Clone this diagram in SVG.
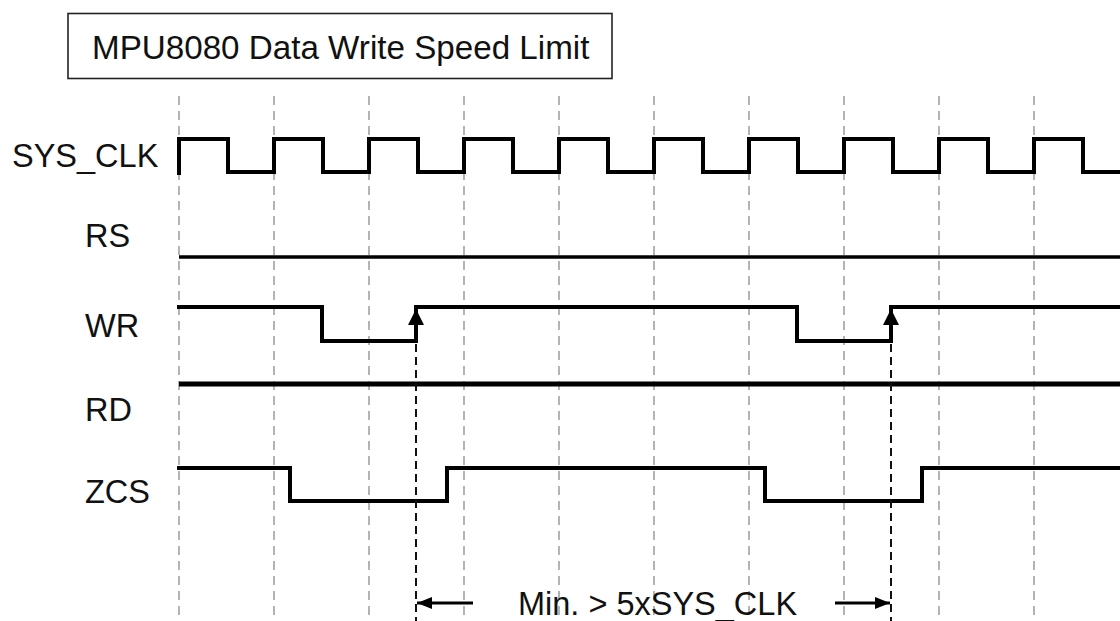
<svg xmlns="http://www.w3.org/2000/svg" width="1120" height="621" viewBox="0 0 1120 621">
<defs>
<style>
.lbl{font-family:"Liberation Sans",Arial,sans-serif;font-size:32.5px;fill:#111}
.ttl{font-size:33.2px}
.grid{stroke:#8c8c8c;stroke-width:1.3;stroke-dasharray:9 6;fill:none}
.mark{stroke:#111;stroke-width:2;stroke-dasharray:8 5;fill:none}
.sig{stroke:#000;stroke-width:4;fill:none;stroke-linejoin:miter;stroke-linecap:square}
.arr{stroke:#000;stroke-width:3;fill:none}
</style>
<marker id="ah" viewBox="0 0 15 12" refX="15" refY="6" markerWidth="15" markerHeight="12" markerUnits="userSpaceOnUse" orient="auto">
<path d="M0,0 L15,6 L0,12 Z" fill="#000"/>
</marker>
</defs>
<rect width="1120" height="621" fill="#fff"/>
<g id="title">
<rect x="68" y="13.5" width="544" height="65" fill="#fff" stroke="#222" stroke-width="1.6"/>
<text class="lbl ttl" x="92" y="59">MPU8080 Data Write Speed Limit</text>
</g>
<g id="grid">
<line class="grid" x1="179" y1="96" x2="179" y2="621"/>
<line class="grid" x1="274" y1="96" x2="274" y2="621"/>
<line class="grid" x1="369" y1="96" x2="369" y2="621"/>
<line class="grid" x1="464" y1="96" x2="464" y2="621"/>
<line class="grid" x1="559" y1="96" x2="559" y2="621"/>
<line class="grid" x1="654" y1="96" x2="654" y2="621"/>
<line class="grid" x1="749" y1="96" x2="749" y2="621"/>
<line class="grid" x1="844" y1="96" x2="844" y2="621"/>
<line class="grid" x1="939" y1="96" x2="939" y2="621"/>
<line class="grid" x1="1034" y1="96" x2="1034" y2="621"/>
</g>
<g id="labels">
<text class="lbl" x="12" y="167">SYS_CLK</text>
<text class="lbl" x="85" y="247">RS</text>
<text class="lbl" x="85" y="337">WR</text>
<text class="lbl" x="85" y="421">RD</text>
<text class="lbl" x="85" y="503">ZCS</text>
</g>
<g id="sys_clk">
<path class="sig" d="M179,173 V139 H228 V172 H274 V139 H323 V172 H369 V139 H418 V172 H464 V139 H513 V172 H559 V139 H608 V172 H654 V139 H703 V172 H749 V139 H798 V172 H844 V139 H893 V172 H939 V139 H988 V172 H1034 V139 H1083 V172 H1122"/>
</g>
<g id="rs">
<line x1="179" y1="257" x2="1120" y2="257" stroke="#000" stroke-width="3.5"/>
</g>
<g id="wr">
<path class="sig" d="M179,307 H322 V341 H416 V307 H797 V341 H891 V307 H1122"/>
<path d="M416,309 L424,325 L408,325 Z M891,309 L899,325 L883,325 Z" fill="#000"/>
</g>
<g id="rd">
<line x1="179" y1="384" x2="1120" y2="384" stroke="#000" stroke-width="5"/>
</g>
<g id="zcs">
<path class="sig" d="M179,468 H290 V501 H447 V468 H765 V501 H922 V468 H1122"/>
</g>
<g id="connectors">
<line class="mark" x1="416" y1="344" x2="416" y2="621"/>
<line class="mark" x1="891" y1="344" x2="891" y2="621"/>
<line class="arr" x1="473" y1="603" x2="417" y2="603" marker-end="url(#ah)"/>
<line class="arr" x1="835" y1="603" x2="890" y2="603" marker-end="url(#ah)"/>
<text class="lbl" x="518" y="615">Min. &gt; 5xSYS_CLK</text>
</g>
</svg>
